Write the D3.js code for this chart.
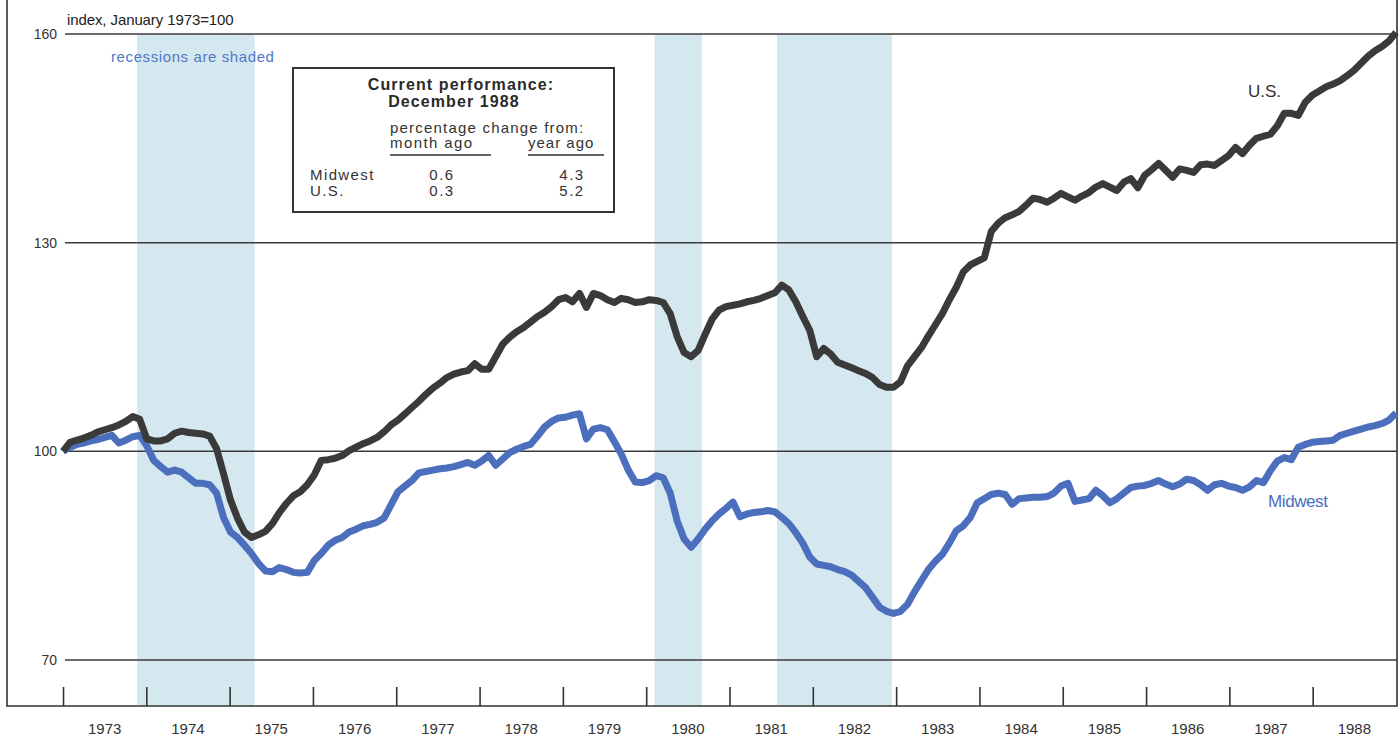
<!DOCTYPE html>
<html>
<head>
<meta charset="utf-8">
<script src="https://cdn.jsdelivr.net/npm/d3@7/dist/d3.min.js"></script>
<style>
  body { margin: 0; background: #ffffff; }
  svg { display: block; }
  text { font-family: "Liberation Sans", Arial, Helvetica, sans-serif; }
</style>
</head>
<body>
<svg id="chart" width="1400" height="740"></svg>
<script>
// ---------------- data (monthly, Jan 1973 - Dec 1988; index Jan 1973 = 100) ----------------
const usValues = [
  // 1973
  100.0, 101.3, 101.6, 101.9, 102.3, 102.8, 103.1, 103.4, 103.8, 104.3, 105.0, 104.6,
  // 1974
  101.8, 101.5, 101.5, 101.8, 102.6, 102.9, 102.7, 102.6, 102.5, 102.2, 100.4, 96.8,
  // 1975
  93.0, 90.4, 88.4, 87.6, 88.0, 88.5, 89.6, 91.2, 92.5, 93.6, 94.2, 95.2,
  // 1976
  96.6, 98.7, 98.8, 99.0, 99.4, 100.1, 100.6, 101.1, 101.5, 102.0, 102.8, 103.8,
  // 1977
  104.5, 105.4, 106.3, 107.2, 108.2, 109.1, 109.8, 110.6, 111.1, 111.4, 111.6, 112.6,
  // 1978
  111.8, 111.8, 113.6, 115.4, 116.4, 117.2, 117.8, 118.6, 119.4, 120.0, 120.8, 121.8,
  // 1979
  122.1, 121.5, 122.7, 120.7, 122.7, 122.4, 121.8, 121.4, 122.0, 121.8, 121.4, 121.5,
  // 1980
  121.8, 121.7, 121.4, 119.8, 116.5, 114.2, 113.6, 114.5, 116.8, 119.0, 120.3, 120.8,
  // 1981
  121.0, 121.2, 121.5, 121.7, 122.0, 122.4, 122.8, 123.9, 123.2, 121.5, 119.4, 117.4,
  // 1982
  113.6, 114.8, 114.0, 112.8, 112.4, 112.0, 111.6, 111.2, 110.6, 109.6, 109.2, 109.2,
  // 1983
  110.0, 112.3, 113.6, 114.9, 116.6, 118.2, 119.8, 121.8, 123.6, 125.8, 126.8, 127.3,
  // 1984
  127.8, 131.6, 132.8, 133.6, 134.0, 134.5, 135.4, 136.4, 136.2, 135.8, 136.4, 137.1,
  // 1985
  136.6, 136.1, 136.7, 137.2, 138.0, 138.5, 138.0, 137.5, 138.7, 139.2, 137.9, 139.7,
  // 1986
  140.5, 141.4, 140.4, 139.4, 140.6, 140.4, 140.1, 141.2, 141.3, 141.1, 141.8, 142.5,
  // 1987
  143.7, 142.8, 144.0, 145.0, 145.3, 145.6, 146.8, 148.6, 148.6, 148.3, 150.2, 151.2,
  // 1988
  151.8, 152.4, 152.8, 153.3, 154.0, 154.8, 155.8, 156.8, 157.6, 158.2, 159.0, 160.2
];

const midwestValues = [
  // 1973
  100.0, 100.6, 101.0, 101.2, 101.5, 101.7, 102.0, 102.3, 101.2, 101.6, 102.1, 102.3,
  // 1974
  100.8, 98.7, 97.8, 97.0, 97.3, 97.0, 96.2, 95.4, 95.4, 95.2, 94.0, 90.5,
  // 1975
  88.4, 87.6, 86.5, 85.3, 83.9, 82.8, 82.7, 83.3, 83.0, 82.6, 82.5, 82.6,
  // 1976
  84.3, 85.3, 86.5, 87.2, 87.6, 88.4, 88.8, 89.3, 89.5, 89.8, 90.4, 92.3,
  // 1977
  94.2, 95.0, 95.8, 96.9, 97.1, 97.3, 97.5, 97.6, 97.8, 98.1, 98.4, 98.0,
  // 1978
  98.6, 99.4, 98.0, 98.9, 99.8, 100.3, 100.7, 101.0, 102.2, 103.5, 104.3, 104.8,
  // 1979
  104.9, 105.2, 105.4, 101.8, 103.2, 103.4, 103.1, 101.4, 99.6, 97.3, 95.6, 95.5,
  // 1980
  95.8, 96.5, 96.2, 94.0, 90.0, 87.4, 86.2, 87.4, 88.8, 90.0, 91.0, 91.8,
  // 1981
  92.7, 90.6, 91.0, 91.2, 91.3, 91.5, 91.3, 90.5, 89.6, 88.3, 86.8, 84.8,
  // 1982
  83.8, 83.6, 83.4, 83.0, 82.7, 82.2, 81.3, 80.4, 79.0, 77.6, 77.0, 76.7,
  // 1983
  77.0, 78.0, 79.8, 81.4, 83.0, 84.2, 85.2, 86.8, 88.6, 89.3, 90.5, 92.6,
  // 1984
  93.2, 93.8, 94.0, 93.8, 92.4, 93.2, 93.3, 93.4, 93.4, 93.5, 94.0, 95.0,
  // 1985
  95.4, 92.8, 93.0, 93.2, 94.4, 93.6, 92.6, 93.2, 94.0, 94.8, 95.0, 95.1,
  // 1986
  95.4, 95.8, 95.3, 94.9, 95.3, 96.0, 95.8, 95.2, 94.4, 95.2, 95.4, 95.0,
  // 1987
  94.8, 94.4, 94.9, 95.8, 95.5, 97.2, 98.6, 99.1, 98.8, 100.6, 101.0, 101.3,
  // 1988
  101.4, 101.5, 101.6, 102.3, 102.6, 102.9, 103.2, 103.5, 103.7, 104.0, 104.5, 105.5
];

const yearLabels = ["1973","1974","1975","1976","1977","1978","1979","1980",
                    "1981","1982","1983","1984","1985","1986","1987","1988"];
const yTicks = [70, 100, 130, 160];

// recession shading (fractional years)
const recessionStart = [1973.89, 1980.10, 1981.57];
const recessionEnd   = [1975.30, 1980.67, 1982.95];

// inset table
const tableRows      = ["Midwest", "U.S."];
const tableMonthAgo  = ["0.6", "0.3"];
const tableYearAgo   = ["4.3", "5.2"];

// ---------------- drawing ----------------
const svg = d3.select("#chart");

const firstYear = +yearLabels[0];
const lastYear = +yearLabels[yearLabels.length - 1] + 1;

const x = d3.scaleLinear().domain([firstYear, lastYear]).range([63, 1396]);
const xMonth = d3.scaleLinear().domain([0, usValues.length - 1]).range([x(firstYear), x(lastYear)]);
const y = d3.scaleLinear().domain([70, 160]).range([660, 34]);

const frameLeft = 7, frameRight = 1397, frameBottom = 706;

const colUS = "#3a3a3a";
const colMW = "#4b6ebd";
const colShade = "#d6e8ef";
const colGrid = "#3a3a3a";

// recession shading
svg.append("g").selectAll("rect")
  .data(recessionStart.map((s, i) => [s, recessionEnd[i]]))
  .join("rect")
  .attr("x", d => x(d[0]))
  .attr("width", d => x(d[1]) - x(d[0]))
  .attr("y", y(160))
  .attr("height", frameBottom - y(160))
  .attr("fill", colShade);

// gridlines
svg.append("g").selectAll("line")
  .data(yTicks)
  .join("line")
  .attr("x1", 65).attr("x2", frameRight)
  .attr("y1", d => y(d)).attr("y2", d => y(d))
  .attr("stroke", colGrid).attr("stroke-width", 1.5);

// y labels
svg.append("g").selectAll("text")
  .data(yTicks)
  .join("text")
  .attr("x", 57).attr("y", d => y(d) + 5)
  .attr("text-anchor", "end")
  .attr("font-size", 14)
  .attr("fill", "#333")
  .text(d => d);

// frame
svg.append("path")
  .attr("d", `M${frameLeft},0 V${frameBottom} H${frameRight} V0`)
  .attr("fill", "none").attr("stroke", "#333").attr("stroke-width", 1.6);

// x ticks (year boundaries)
const xAxis = d3.axisTop(x)
  .tickValues(yearLabels.map(d => +d))
  .tickSize(19)
  .tickFormat("");
const gx = svg.append("g").attr("transform", `translate(0,${frameBottom})`).call(xAxis);
gx.select(".domain").remove();
gx.selectAll(".tick line").attr("stroke", "#333").attr("stroke-width", 1.6);

// year labels centered in each year
svg.append("g").selectAll("text")
  .data(yearLabels)
  .join("text")
  .attr("x", d => x(+d + 0.5))
  .attr("y", 734)
  .attr("text-anchor", "middle")
  .attr("font-size", 15)
  .attr("fill", "#333")
  .text(d => d);

// lines
const line = d3.line()
  .x((d, i) => xMonth(i))
  .y(d => y(d))
  .curve(d3.curveLinear);

svg.append("path").datum(midwestValues)
  .attr("d", line)
  .attr("fill", "none").attr("stroke", colMW)
  .attr("stroke-width", 7).attr("stroke-linejoin", "round").attr("stroke-linecap", "butt");

svg.append("path").datum(usValues)
  .attr("d", line)
  .attr("fill", "none").attr("stroke", colUS)
  .attr("stroke-width", 7).attr("stroke-linejoin", "round").attr("stroke-linecap", "butt");

// series labels
svg.append("text").attr("x", 1248).attr("y", 97)
  .attr("font-size", 17).attr("fill", "#333").text("U.S.");
svg.append("text").attr("x", 1268).attr("y", 507)
  .attr("font-size", 17).attr("fill", colMW).attr("letter-spacing", -0.4).text("Midwest");

// titles
svg.append("text").attr("x", 67).attr("y", 25)
  .attr("font-size", 15).attr("fill", "#222").attr("letter-spacing", -0.1)
  .text("index, January 1973=100");
svg.append("text").attr("x", 111).attr("y", 62)
  .attr("font-size", 15).attr("fill", "#5078c8").attr("letter-spacing", 0.6)
  .text("recessions are shaded");

// inset box
const box = svg.append("g");
box.append("rect").attr("x", 293).attr("y", 68).attr("width", 321).attr("height", 144)
  .attr("fill", "#fff").attr("stroke", "#333").attr("stroke-width", 2);
box.append("text").attr("x", 461).attr("y", 90).attr("text-anchor", "middle")
  .attr("font-size", 16).attr("font-weight", "bold").attr("letter-spacing", 1.1)
  .attr("fill", "#2a2a2a").text("Current performance:");
box.append("text").attr("x", 454).attr("y", 107).attr("text-anchor", "middle")
  .attr("font-size", 16).attr("font-weight", "bold").attr("letter-spacing", 1.1)
  .attr("fill", "#2a2a2a").text("December 1988");
box.append("text").attr("x", 390).attr("y", 133)
  .attr("font-size", 15).attr("letter-spacing", 1.2).attr("fill", "#333")
  .text("percentage change from:");
box.append("text").attr("x", 390).attr("y", 148)
  .attr("font-size", 15).attr("letter-spacing", 1.4).attr("fill", "#333").text("month ago");
box.append("text").attr("x", 528).attr("y", 148)
  .attr("font-size", 15).attr("letter-spacing", 1.0).attr("fill", "#333").text("year ago");
box.append("line").attr("x1", 390).attr("x2", 491).attr("y1", 155).attr("y2", 155)
  .attr("stroke", "#333").attr("stroke-width", 1.6);
box.append("line").attr("x1", 528).attr("x2", 604).attr("y1", 155).attr("y2", 155)
  .attr("stroke", "#333").attr("stroke-width", 1.6);

tableRows.forEach((r, i) => {
  const yy = 180 + i * 16;
  box.append("text").attr("x", 310).attr("y", yy).attr("font-size", 15)
    .attr("letter-spacing", 1.4).attr("fill", "#333").text(r);
  box.append("text").attr("x", 442).attr("y", yy).attr("font-size", 15)
    .attr("text-anchor", "middle").attr("letter-spacing", 1.5).attr("fill", "#333").text(tableMonthAgo[i]);
  box.append("text").attr("x", 572).attr("y", yy).attr("font-size", 15)
    .attr("text-anchor", "middle").attr("letter-spacing", 1.5).attr("fill", "#333").text(tableYearAgo[i]);
});
</script>
</body>
</html>
